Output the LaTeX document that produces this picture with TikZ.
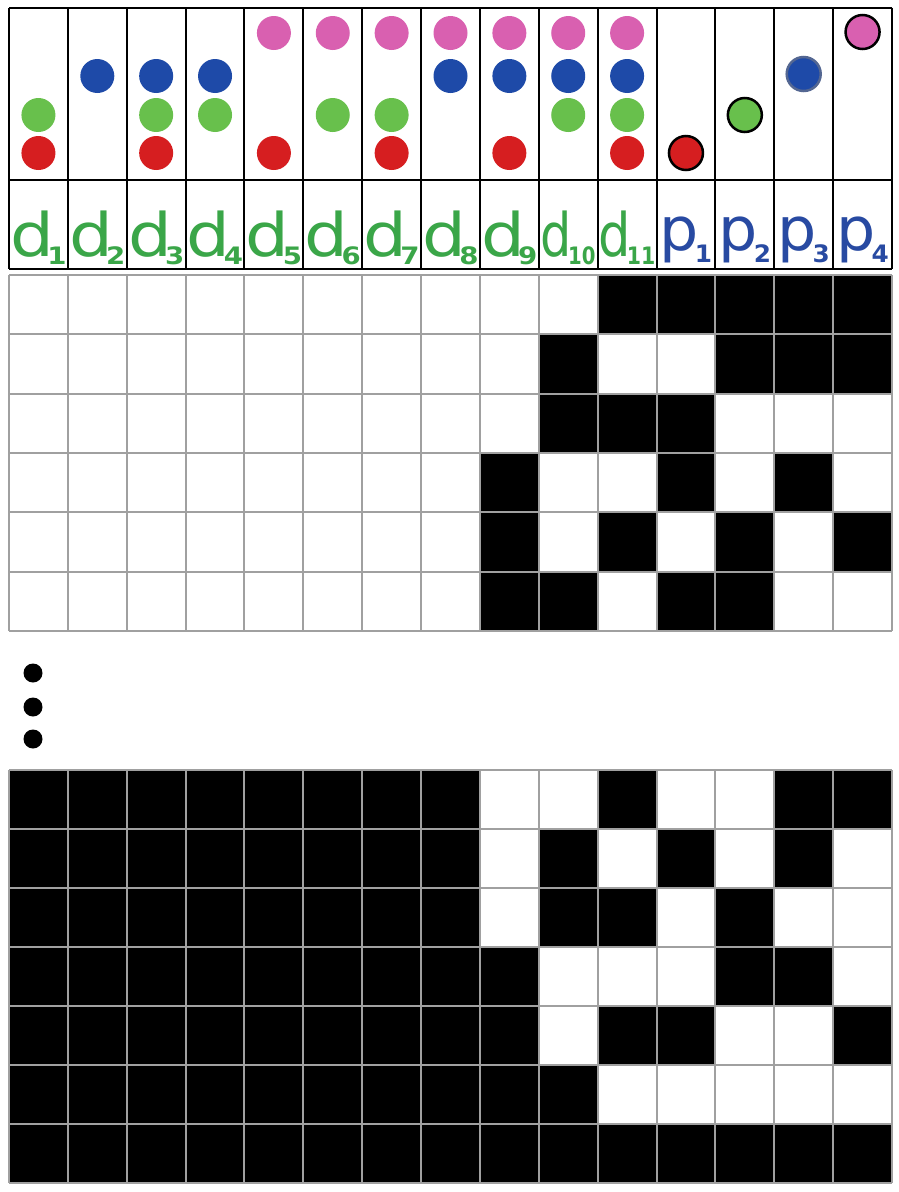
\documentclass[tikz,border=0pt]{standalone}
\usepackage{fontspec}
\setmainfont{DejaVu Sans}
\definecolor{cpink}{RGB}{217,96,176}
\definecolor{cblue}{RGB}{30,74,168}
\definecolor{cgreen}{RGB}{104,192,76}
\definecolor{cred}{RGB}{214,30,32}
\definecolor{lgreen}{RGB}{58,166,72}
\definecolor{lblue}{RGB}{40,74,162}
\definecolor{gline}{RGB}{160,160,160}
\newcommand\collab[6]{% col, letter, digits, xscale, color, kern
  \node[labtext, text=#5] (lab#1) at ({9+58.867*(#1-0.5)}, 256)
    {\scalebox{#4}[1]{\fontsize{60}{60}\selectfont #2\kern#6\raisebox{-8pt}{\fontsize{24}{24}\selectfont\bfseries #3}}};}
\newcommand\plab[4]{% col, digits, xscale, kern
  \node[labtext, text=lblue] (lab#1) at ({9+58.867*(#1-0.5)}, 250)
    {\scalebox{#3}[1]{\fontsize{60}{60}\selectfont p\kern#4\raisebox{-12pt}{\fontsize{24}{24}\selectfont\bfseries #2}}};}
\begin{document}
\begin{tikzpicture}[x=1pt,y=-1pt,
  gridline/.style={draw=gline, line width=2pt},
  boxline/.style={draw=black, line width=2pt},
  dotc/.style={circle, minimum size=34pt, inner sep=0pt},
  outlined/.style={circle, minimum size=34pt, inner sep=0pt, draw=black, line width=2.5pt},
  labtext/.style={anchor=base, inner sep=0pt}]
\useasboundingbox (0,0) rectangle (899,1192);
\fill[white] (0,0) rectangle (899,1192);

% ---------- top box ----------
\foreach \i in {0,...,15} \draw[boxline] ({9+58.867*\i},7.5) -- ({9+58.867*\i},269);
\draw[boxline] (9,7.5) -- (892,7.5);
\draw[boxline] (9,180) -- (892,180);
\draw[boxline] (9,269) -- (892,269);

% coloured dots
\foreach \c in {5,6,7,8,9,10,11} \node[dotc, fill=cpink] (pk\c) at ({9+58.867*(\c-0.5)},33) {};
\foreach \c in {2,3,4,8,9,10,11} \node[dotc, fill=cblue] (bl\c) at ({9+58.867*(\c-0.5)},76) {};
\foreach \c in {1,3,4,6,7,10,11} \node[dotc, fill=cgreen] (gr\c) at ({9+58.867*(\c-0.5)},115) {};
\foreach \c in {1,3,5,7,9,11} \node[dotc, fill=cred] (rd\c) at ({9+58.867*(\c-0.5)},153) {};
% parity dots
\node[outlined, fill=cred] (pd1) at ({9+58.867*11.5},153) {};
\node[outlined, fill=cgreen] (pd2) at ({9+58.867*12.5},115) {};
\node[dotc, fill=cblue, draw=cblue!45!gray, line width=2.5pt] (pd3) at ({9+58.867*13.5},74) {};
\node[outlined, fill=cpink] (pd4) at ({9+58.867*14.5},32) {};

% labels
\foreach \c in {1,...,9} {\collab{\c}{d}{\c}{1.15}{lgreen}{-6pt}}
\collab{10}{d}{10}{0.82}{lgreen}{-5pt}
\collab{11}{d}{11}{0.85}{lgreen}{-5pt}
\plab{12}{1}{1.03}{-4pt}
\plab{13}{2}{1.03}{-4pt}
\plab{14}{3}{1.03}{-4pt}
\plab{15}{4}{1.03}{-4pt}

% ---------- grid 1 ----------
\foreach \r/\cols in {1/{11,12,13,14,15}, 2/{10,13,14,15}, 3/{10,11,12}, 4/{9,12,14}, 5/{9,11,13,15}, 6/{9,10,12,13}} {
  \foreach \c in \cols {\fill[black] ({9+58.867*(\c-1)},{275+59.333*(\r-1)}) rectangle ++(58.867,59.333);}
}
\foreach \i in {0,...,15} \draw[gridline] ({9+58.867*\i},275) -- ({9+58.867*\i},631);
\foreach \j in {0,...,6} \draw[gridline] (9,{275+59.333*\j}) -- (892,{275+59.333*\j});

% ---------- ellipsis ----------
\foreach \y/\n in {673/1,707/2,739/3} \fill[black] (33,\y) circle (9.5) coordinate (el\n);

% ---------- grid 2 ----------
\foreach \r/\cols in {1/{1,2,3,4,5,6,7,8,11,14,15}, 2/{1,2,3,4,5,6,7,8,10,12,14}, 3/{1,2,3,4,5,6,7,8,10,11,13}, 4/{1,2,3,4,5,6,7,8,9,13,14}, 5/{1,2,3,4,5,6,7,8,9,11,12,15}, 6/{1,2,3,4,5,6,7,8,9,10}, 7/{1,2,3,4,5,6,7,8,9,10,11,12,13,14,15}} {
  \foreach \c in \cols {\fill[black] ({9+58.867*(\c-1)},{770+59*(\r-1)}) rectangle ++(58.867,59);}
}
\foreach \i in {0,...,15} \draw[gridline] ({9+58.867*\i},770) -- ({9+58.867*\i},1183);
\foreach \j in {0,...,7} \draw[gridline] (9,{770+59*\j}) -- (892,{770+59*\j});
\end{tikzpicture}
\end{document}
